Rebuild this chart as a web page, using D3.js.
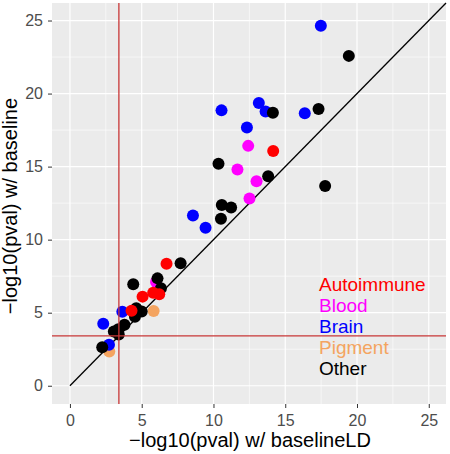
<!DOCTYPE html>
<html><head><meta charset="utf-8">
<script src="https://cdn.jsdelivr.net/npm/d3@7"></script>
<style>body{margin:0;background:#fff;} svg{display:block;font-family:"Liberation Sans",Arial,sans-serif;}</style>
</head><body>
<script>
const categories = ["Pigment","Blood","Brain","Other","Autoimmune"];
const legendOrder = ["Autoimmune","Blood","Brain","Pigment","Other"];
const colors = {Autoimmune:"#FF0000",Blood:"#FF00FF",Brain:"#0000FF",Pigment:"#F4A460",Other:"#000000"};
const autoimmuneX = [14.16,6.73,5.8,6.22,5.06,4.29];
const autoimmuneY = [16.07,8.35,6.37,6.26,6.1,5.14];
const bloodX = [12.42,11.67,13.0,12.51,6.0];
const bloodY = [16.42,14.8,14.0,12.82,7.1];
const brainX = [17.48,10.56,13.16,13.63,16.36,12.33,8.57,9.45,3.65,2.32,2.72];
const brainY = [24.64,18.85,19.35,18.78,18.65,17.67,11.66,10.81,5.07,4.25,2.8];
const pigmentX = [5.83,2.74];
const pigmentY = [5.12,2.35];
const otherX = [19.43,14.14,17.32,10.35,13.81,17.78,10.58,11.23,10.52,7.71,6.1,6.34,4.41,4.62,5.0,4.53,3.8,3.37,3.06,3.4,2.25];
const otherY = [22.58,18.69,18.94,15.19,14.34,13.68,12.38,12.2,11.43,8.38,7.35,6.67,6.94,5.3,5.08,4.72,4.17,3.87,3.71,3.5,2.64];
const ticks = [0,5,10,15,20,25];
const minorTicks = [2.5,7.5,12.5,17.5,22.5];
const threshold = 3.41;
const xTitle = "\u2212log10(pval) w/ baselineLD";
const yTitle = "\u2212log10(pval) w/ baseline";

const series = {
  Autoimmune: autoimmuneX.map((x,i)=>({x, y:autoimmuneY[i]})),
  Blood: bloodX.map((x,i)=>({x, y:bloodY[i]})),
  Brain: brainX.map((x,i)=>({x, y:brainY[i]})),
  Pigment: pigmentX.map((x,i)=>({x, y:pigmentY[i]})),
  Other: otherX.map((x,i)=>({x, y:otherY[i]}))
};

const W = 450, H = 454;
const P = {l:52, r:446, t:3, b:404};
const dom = [-1.25, 26.2];
const x = d3.scaleLinear().domain(dom).range([P.l, P.r]);
const y = d3.scaleLinear().domain(dom).range([P.b, P.t]);

const svg = d3.select("body").append("svg").attr("width", W).attr("height", H);
svg.append("rect").attr("x",P.l).attr("y",P.t).attr("width",P.r-P.l).attr("height",P.b-P.t).attr("fill","#EBEBEB");

const grid = svg.append("g");
minorTicks.forEach(t=>{
  grid.append("line").attr("x1",x(t)).attr("x2",x(t)).attr("y1",P.t).attr("y2",P.b).attr("stroke","#fff").attr("stroke-width",0.6);
  grid.append("line").attr("y1",y(t)).attr("y2",y(t)).attr("x1",P.l).attr("x2",P.r).attr("stroke","#fff").attr("stroke-width",0.6);
});
ticks.forEach(t=>{
  grid.append("line").attr("x1",x(t)).attr("x2",x(t)).attr("y1",P.t).attr("y2",P.b).attr("stroke","#fff").attr("stroke-width",1.2);
  grid.append("line").attr("y1",y(t)).attr("y2",y(t)).attr("x1",P.l).attr("x2",P.r).attr("stroke","#fff").attr("stroke-width",1.2);
});

// axes
const xa = svg.append("g").attr("transform",`translate(0,${P.b})`)
  .call(d3.axisBottom(x).tickValues(ticks).tickSize(4).tickPadding(7).tickFormat(d3.format("d")));
const ya = svg.append("g").attr("transform",`translate(${P.l},0)`)
  .call(d3.axisLeft(y).tickValues(ticks).tickSize(4).tickPadding(5).tickFormat(d3.format("d")));
[xa,ya].forEach(a=>{
  a.select(".domain").remove();
  a.selectAll(".tick line").attr("stroke","#333").attr("stroke-width",1);
  a.selectAll(".tick text").attr("fill","#4D4D4D").style("font-size","16px").style("font-family","Liberation Sans, Arial, sans-serif");
});

// diagonal
const diagEnd = dom[1];
svg.append("line").attr("x1",x(0)).attr("y1",y(0)).attr("x2",x(diagEnd)).attr("y2",y(diagEnd))
  .attr("stroke","#000").attr("stroke-width",1.3);

// points
const pts = svg.append("g");
categories.forEach(c=>{
  pts.selectAll(null).data(series[c]).enter().append("circle")
    .attr("cx",d=>x(d.x)).attr("cy",d=>y(d.y)).attr("r",6).attr("fill",colors[c]);
});

// threshold lines
svg.append("line").attr("x1",x(threshold)).attr("x2",x(threshold)).attr("y1",P.t).attr("y2",P.b).attr("stroke","#C83737").attr("stroke-width",1.3);
svg.append("line").attr("y1",y(threshold)).attr("y2",y(threshold)).attr("x1",P.l).attr("x2",P.r).attr("stroke","#C83737").attr("stroke-width",1.3);

// legend text
legendOrder.forEach((c,i)=>{
  svg.append("text").attr("x",319).attr("y",291 + i*21).attr("fill",colors[c])
    .style("font-size","19px").text(c);
});

// titles
svg.append("text").attr("x",250).attr("y",447).attr("text-anchor","middle")
  .style("font-size","20px").attr("fill","#000").text(xTitle);
svg.append("text").attr("transform",`translate(16.5,206) rotate(-90)`).attr("text-anchor","middle")
  .style("font-size","20px").attr("fill","#000").text(yTitle);
</script>
</body></html>
